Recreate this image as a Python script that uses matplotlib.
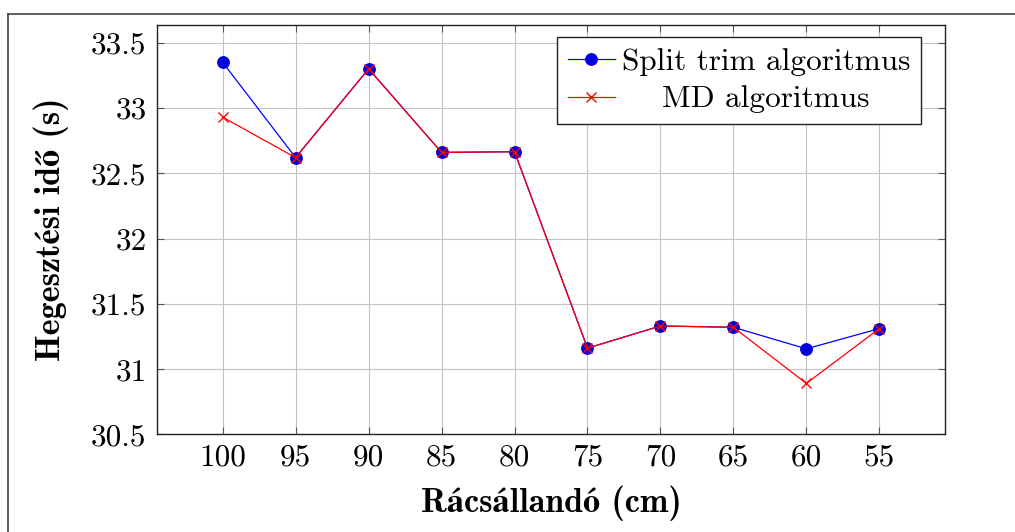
import matplotlib
matplotlib.use("Agg")
import matplotlib.pyplot as plt
from matplotlib.lines import Line2D

# ---- data ----
racs = [100, 95, 90, 85, 80, 75, 70, 65, 60, 55]
split_trim = [33.35, 32.62, 33.30, 32.66, 32.665, 31.16, 31.33, 31.32, 31.155, 31.31]
md_alg = [32.93, 32.62, 33.30, 32.66, 32.665, 31.16, 31.33, 31.32, 30.89, 31.31]
yticks = [30.5, 31, 31.5, 32, 32.5, 33, 33.5]
ytick_labels = ["30.5", "31", "31.5", "32", "32.5", "33", "33.5"]
xtick_labels = [str(v) for v in racs]
series_names = ["Split trim algoritmus", "MD algoritmus"]
xlabel = "Rácsállandó (cm)"
ylabel = "Hegesztési idő (s)"

W, H = 1015, 532
fig = plt.figure(figsize=(W / 100, H / 100), dpi=100)
L, R, T, B = 157, 945, 25, 434.3
ax = fig.add_axes([L / W, 1 - B / H, (R - L) / W, (B - T) / H])

reg = dict(family=["cmr10", "STIXGeneral"], size=22.5)
bold = dict(family=["cmb10", "STIXGeneral"], size=24.5, weight="bold")

ax.plot(racs, split_trim, color=(0, 0, 1), lw=0.9, marker="o", ms=8.2,
        mfc=(0, 0, 0.85), mec=(0, 0, 0.85), label=series_names[0], zorder=3)
ax.plot(racs, md_alg, color=(1, 0, 0), lw=0.9, marker="x", ms=6.5,
        mew=1.0, label=series_names[1], zorder=4)

ax.set_xlim(104.5, 50.5)
ax.set_ylim(30.5, 33.636)
ax.set_xticks(racs)
ax.set_xticklabels(xtick_labels, **reg)
ax.set_yticks(yticks)
ax.set_yticklabels(ytick_labels, **reg)

ax.grid(True, color="#c4c4c4", lw=0.8)
ax.set_axisbelow(True)
ax.tick_params(direction="in", length=5, width=0.8, color="#555555",
               top=True, right=True, labelcolor="black")
ax.tick_params(axis="x", pad=7)
ax.tick_params(axis="y", pad=7.5)
for s in ax.spines.values():
    s.set_linewidth(1.0)
    s.set_color("#222222")

ax.set_xlabel(xlabel, va="baseline", **bold)
ax.xaxis.set_label_coords(0.5, -(512 - B) / (B - T))
ax.set_ylabel(ylabel, va="center", **bold)
ax.yaxis.set_label_coords(-(L - 51) / (R - L), 0.5)

leg = ax.legend(loc="upper right", bbox_to_anchor=(921 / W, 1 - 37.3 / H),
                bbox_transform=fig.transFigure, borderaxespad=0,
                prop=dict(family=["cmr10", "STIXGeneral"], size=22.5),
                fancybox=False, framealpha=1, edgecolor="#222222",
                handlelength=1.5, handletextpad=0.22, borderpad=0.35,
                labelspacing=0.3)
leg.get_frame().set_linewidth(1.0)

# center legend texts like pgfplots
fig.canvas.draw()
rend = fig.canvas.get_renderer()
texts = leg.get_texts()
widths = [t.get_window_extent(rend).width for t in texts]
wmax = max(widths)
for t, w in zip(texts, widths):
    t.set_position(((wmax - w) / 2, 0))

# outer page frame
fig.add_artist(Line2D([8 / W, 1], [1 - 13.5 / H, 1 - 13.5 / H],
                      transform=fig.transFigure, color="#444444", lw=1.2))
fig.add_artist(Line2D([8 / W, 8 / W], [0, 1 - 13.5 / H],
                      transform=fig.transFigure, color="#444444", lw=1.2))

fig.savefig("out.png", dpi=100)
